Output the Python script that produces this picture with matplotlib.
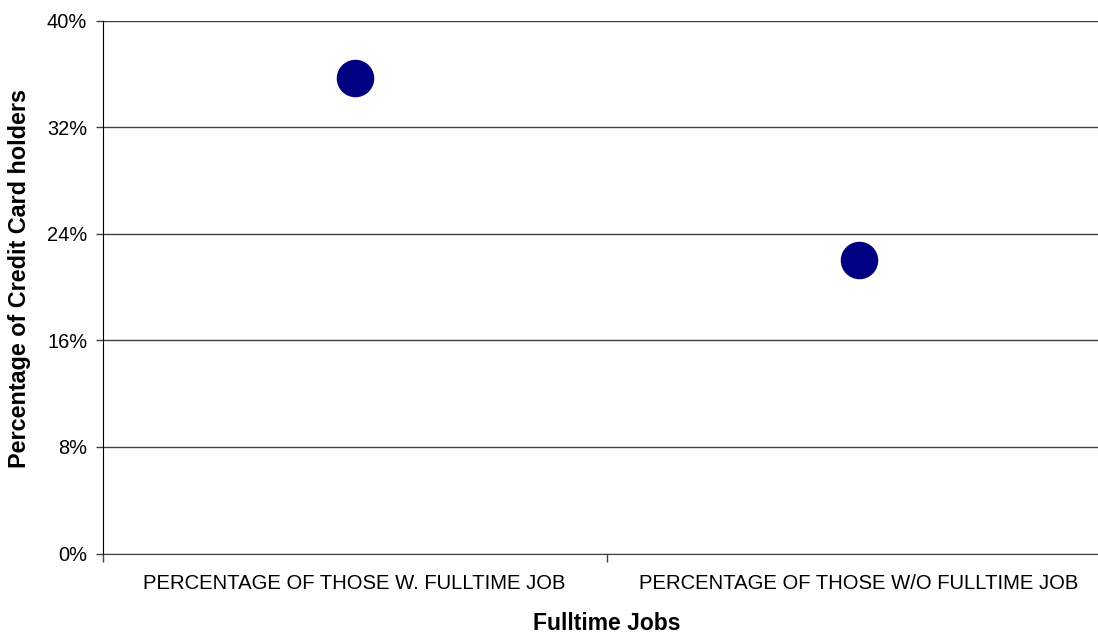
import matplotlib.pyplot as plt
from matplotlib.ticker import FixedLocator, FuncFormatter

plt.rcParams['font.family'] = ['Liberation Sans', 'DejaVu Sans']

categories = ['PERCENTAGE OF THOSE W. FULLTIME JOB', 'PERCENTAGE OF THOSE W/O FULLTIME JOB']
shares = [35.7, 22.0]  # percent of credit card holders
y_ticks = [0, 8, 16, 24, 32, 40]

fig = plt.figure(figsize=(10.98, 6.35), dpi=100)
# axes run a little past the right edge, as in the original export
ax = fig.add_axes([102.5 / 1098, 1 - 553.5 / 635, 1008 / 1098, 533 / 635])

x = [0, 1]
ax.plot(x, shares, linestyle='none', marker='o', markersize=26,
        color='#000080', zorder=3, clip_on=False)

ax.set_xlim(-0.5, 1.5)
ax.set_ylim(0, 40)

ax.set_yticks(y_ticks)
ax.yaxis.set_major_formatter(FuncFormatter(lambda v, p: f'{v:.0f}%'))
ax.yaxis.grid(True, color='#404040', linewidth=1)
ax.set_axisbelow(True)
ax.tick_params(axis='y', length=5, width=1, color='#404040', pad=6,
               labelsize=14.4)

ax.set_xticks(x)
ax.set_xticklabels(categories)
ax.xaxis.set_minor_locator(FixedLocator([-0.5, 0.5, 1.5]))
ax.tick_params(axis='x', which='major', length=0, pad=15, labelsize=14.6)
ax.tick_params(axis='x', which='minor', length=6, width=1, color='#404040')

for side in ('top', 'right'):
    ax.spines[side].set_visible(False)
ax.spines['left'].set_color('black')
ax.spines['bottom'].set_color('#404040')

fig.text(20 / 1098, 1 - 278 / 635, 'Percentage of Credit Card holders',
         fontsize=16.8, fontweight='bold', rotation=90,
         ha='center', va='center')
fig.text(607 / 1098, 1 - 623 / 635, 'Fulltime Jobs',
         fontsize=16.5, fontweight='bold', ha='center', va='center')

fig.savefig('out.png', dpi=100)
